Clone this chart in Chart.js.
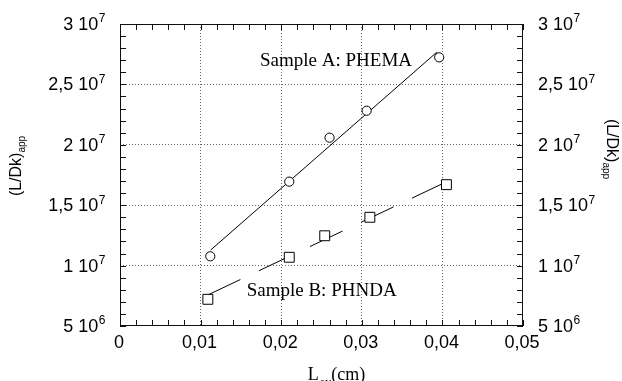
<!DOCTYPE html>
<html>
<head>
<meta charset="utf-8">
<script src="https://cdn.jsdelivr.net/npm/chart.js@4.4.1/dist/chart.umd.min.js"></script>
<style>
  html, body { margin: 0; padding: 0; background: #fff; }
  #wrap { width: 622px; height: 381px; position: relative; }
</style>
</head>
<body>
<div id="wrap"><canvas id="c" width="622" height="381"></canvas></div>
<script>
// ---- Data ----
const phemaX = [0.0112, 0.0210, 0.0260, 0.0306, 0.0396];
const phemaY = [1.077e7, 1.695e7, 2.059e7, 2.282e7, 2.724e7];
const phemaFitX = [0.01125, 0.0393];
const phemaFitY = [1.129e7, 2.766e7];

const phndaX = [0.0109, 0.0210, 0.0254, 0.0310, 0.0405];
const phndaY = [7.21e6, 1.069e7, 1.247e7, 1.400e7, 1.670e7];
const phndaFitX = [0.0109, 0.0401];
const phndaFitY = [7.57e6, 1.681e7];

// Tick labels
const xTickValues = [0, 0.01, 0.02, 0.03, 0.04, 0.05];
const xTickLabels = ["0", "0,01", "0,02", "0,03", "0,04", "0,05"];
const yTickValues = [3e7, 2.5e7, 2e7, 1.5e7, 1e7, 5e6];
const yTickMantissa = ["3", "2,5", "2", "1,5", "1", "5"];
const yTickExponent = ["7", "7", "7", "7", "7", "6"];

// Annotations (data coordinates)
const labelA = { text: "Sample A: PHEMA", x: 0.01737, y: 2.652e7 };
const labelB = { text: "Sample B: PHNDA", x: 0.01572, y: 7.48e6 };

const pts = (xs, ys) => xs.map((x, i) => ({ x: x, y: ys[i] }));

const SANS = '"Liberation Sans", Arial, Helvetica, sans-serif';
const SERIF = '"Liberation Serif", "Times New Roman", serif';

const decorPlugin = {
  id: 'decor',
  afterDraw(chart) {
    const ctx = chart.ctx;
    const xs = chart.scales.x, ys = chart.scales.y;
    const a = chart.chartArea;
    ctx.save();
    ctx.setLineDash([]);
    // frame
    ctx.strokeStyle = '#111';
    ctx.lineWidth = 1;
    ctx.strokeRect(a.left + 0.5, a.top + 0.5, a.right - a.left - 1, a.bottom - a.top - 1);
    // inward ticks
    ctx.beginPath();
    const tl = 6;
    for (let k = 0; k <= 25; k++) {
      const v = k * 0.002;
      const px = Math.round(xs.getPixelForValue(v)) + 0.5;
      ctx.moveTo(px, a.bottom); ctx.lineTo(px, a.bottom - tl);
      ctx.moveTo(px, a.top); ctx.lineTo(px, a.top + tl);
    }
    for (let k = 5; k <= 30; k++) {
      const v = k * 1e6;
      const py = Math.round(ys.getPixelForValue(v)) + 0.5;
      ctx.moveTo(a.left, py); ctx.lineTo(a.left + tl, py);
      ctx.moveTo(a.right, py); ctx.lineTo(a.right - tl, py);
    }
    ctx.stroke();

    ctx.fillStyle = '#000';
    // x tick labels
    ctx.font = '18px ' + SANS;
    ctx.textAlign = 'center';
    ctx.textBaseline = 'middle';
    xTickValues.forEach((v, i) => {
      ctx.fillText(xTickLabels[i], xs.getPixelForValue(v) - 1, a.bottom + 17);
    });
    // y tick labels with superscripts, both sides
    yTickValues.forEach((v, i) => {
      const py = ys.getPixelForValue(v);
      const main = yTickMantissa[i] + ' 10';
      ctx.font = '18px ' + SANS;
      const wMain = ctx.measureText(main).width;
      ctx.font = '12px ' + SANS;
      const wExp = ctx.measureText(yTickExponent[i]).width;
      ctx.textAlign = 'left';
      ctx.textBaseline = 'middle';
      // left
      let x0 = a.left - 15 - wMain - wExp;
      ctx.font = '18px ' + SANS;
      ctx.fillText(main, x0, py + 1);
      ctx.font = '12px ' + SANS;
      ctx.fillText(yTickExponent[i], x0 + wMain + 0.5, py - 5);
      // right
      x0 = a.right + 15;
      ctx.font = '18px ' + SANS;
      ctx.fillText(main, x0, py + 1);
      ctx.font = '12px ' + SANS;
      ctx.fillText(yTickExponent[i], x0 + wMain + 0.5, py - 5);
    });

    // axis titles
    const drawYTitle = (cx, cy, rot) => {
      ctx.save();
      ctx.translate(cx, cy);
      ctx.rotate(rot);
      ctx.textBaseline = 'alphabetic';
      ctx.textAlign = 'left';
      ctx.font = '16px ' + SANS;
      const m = '(L/Dk)';
      const wm = ctx.measureText(m).width;
      ctx.font = '10px ' + SANS;
      const ws = ctx.measureText('app').width;
      const start = -(wm + ws) / 2;
      ctx.font = '16px ' + SANS;
      ctx.fillText(m, start, 5);
      ctx.font = '10px ' + SANS;
      ctx.fillText('app', start + wm, 9);
      ctx.restore();
    };
    drawYTitle(16, 166, -Math.PI / 2);
    drawYTitle(612, 149, Math.PI / 2);

    // x title
    ctx.textBaseline = 'alphabetic';
    ctx.textAlign = 'left';
    ctx.font = '18px ' + SERIF;
    const wL = ctx.measureText('L').width;
    ctx.font = '12px ' + SERIF;
    const wAv = ctx.measureText('av').width;
    ctx.font = '18px ' + SERIF;
    const wCm = ctx.measureText('(cm)').width;
    let tx = 336 - (wL + wAv + wCm) / 2;
    ctx.fillText('L', tx, 380);
    ctx.font = '12px ' + SERIF;
    ctx.fillText('av', tx + wL + 1, 386);
    ctx.font = '18px ' + SERIF;
    ctx.fillText('(cm)', tx + wL + wAv + 1, 380);

    // annotations
    ctx.font = '19px ' + SERIF;
    ctx.fillText(labelA.text, xs.getPixelForValue(labelA.x), ys.getPixelForValue(labelA.y));
    ctx.fillText(labelB.text, xs.getPixelForValue(labelB.x), ys.getPixelForValue(labelB.y));
    ctx.restore();
  }
};

new Chart(document.getElementById('c'), {
  type: 'scatter',
  data: {
    datasets: [
      {
        label: 'PHEMA',
        data: pts(phemaX, phemaY),
        pointStyle: 'circle',
        pointRadius: 4.6,
        pointBorderColor: '#000',
        pointBackgroundColor: '#fff',
        pointBorderWidth: 1,
        showLine: false,
        order: 1
      },
      {
        label: 'PHNDA',
        data: pts(phndaX, phndaY),
        pointStyle: 'rect',
        pointRadius: 7,
        pointBorderColor: '#000',
        pointBackgroundColor: '#fff',
        pointBorderWidth: 1,
        showLine: false,
        order: 1
      },
      {
        label: 'PHEMA fit',
        data: pts(phemaFitX, phemaFitY),
        showLine: true,
        borderColor: '#000',
        borderWidth: 1,
        pointRadius: 0,
        order: 2
      },
      {
        label: 'PHNDA fit',
        data: pts(phndaFitX, phndaFitY),
        showLine: true,
        borderColor: '#000',
        borderWidth: 1,
        borderDash: [36, 20.5],
        pointRadius: 0,
        order: 2
      }
    ]
  },
  options: {
    responsive: false,
    animation: false,
    events: [],
    layout: { padding: { left: 120, right: 99, top: 24, bottom: 55 } },
    plugins: { legend: { display: false }, tooltip: { enabled: false } },
    scales: {
      x: {
        type: 'linear', min: 0, max: 0.05,
        ticks: { display: false, stepSize: 0.01 },
        grid: {
          drawTicks: false,
          color: (c) => (c.tick && (c.tick.value > 0.0001 && c.tick.value < 0.0499)) ? '#666' : 'rgba(0,0,0,0)',
          lineWidth: 1
        },
        border: { display: false, dash: [1, 2] }
      },
      y: {
        type: 'linear', min: 5e6, max: 3e7,
        ticks: { display: false, stepSize: 5e6 },
        grid: {
          drawTicks: false,
          color: (c) => (c.tick && (c.tick.value > 5.1e6 && c.tick.value < 2.99e7)) ? '#666' : 'rgba(0,0,0,0)',
          lineWidth: 1
        },
        border: { display: false, dash: [1, 2] }
      }
    }
  },
  plugins: [decorPlugin]
});
</script>
</body>
</html>
